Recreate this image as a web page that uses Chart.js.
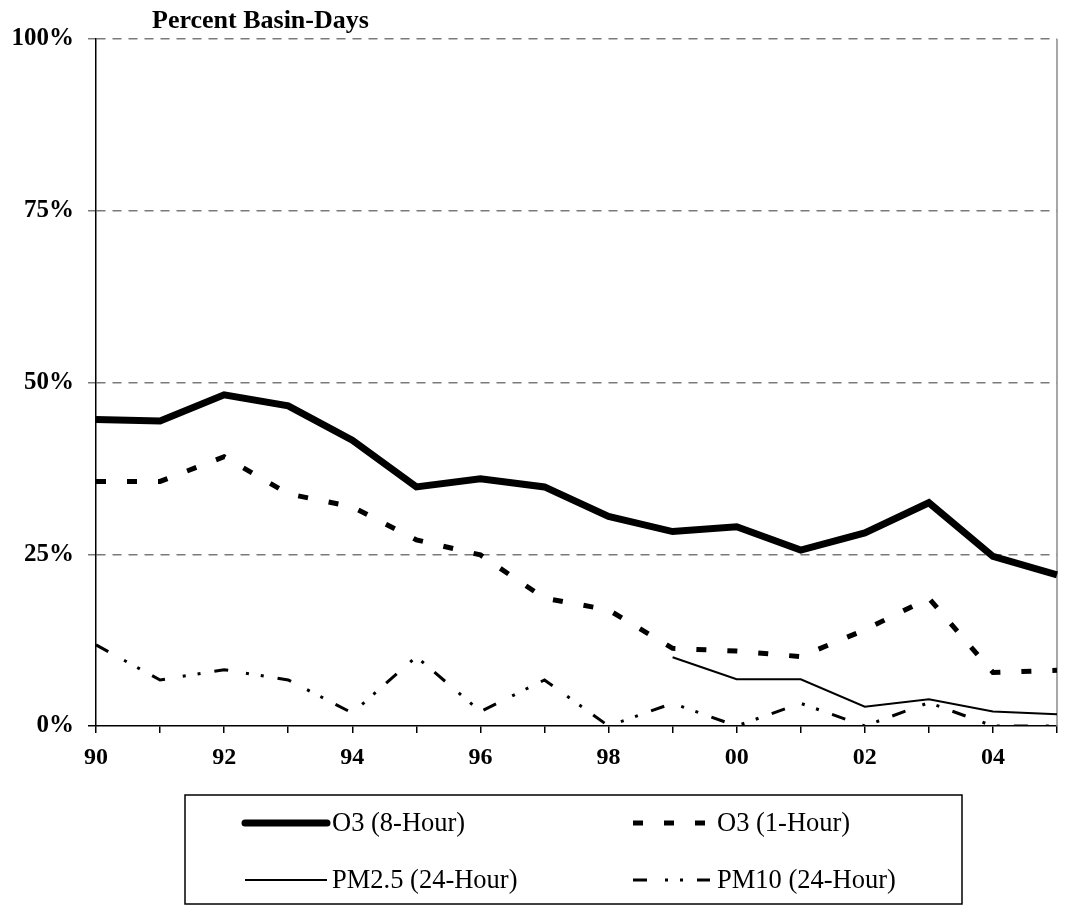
<!DOCTYPE html>
<html>
<head>
<meta charset="utf-8">
<title>Percent Basin-Days</title>
<script src="https://cdn.jsdelivr.net/npm/chart.js@4/dist/chart.umd.min.js"></script>
<style>
  html, body { margin: 0; padding: 0; background: #fff; }
  #wrap { width: 1067px; height: 907px; position: relative; }
</style>
</head>
<body>
<div id="wrap"><canvas id="basinDays"></canvas></div>
<script>
// years shown as two-digit labels
const years = ['90', '91', '92', '93', '94', '95', '96', '97', '98', '99', '00', '01', '02', '03', '04', '05'];

// percent of basin-days over the standard
const o3_8hr  = [44.6, 44.4, 48.2, 46.6, 41.6, 34.8, 36.0, 34.8, 30.5, 28.3, 29.0, 25.6, 28.1, 32.5, 24.7, 22.0];
const o3_1hr  = [35.6, 35.6, 39.2, 33.8, 31.9, 27.1, 24.9, 18.6, 16.9, 11.3, 10.9, 10.1, 14.0, 18.6, 7.8, 8.1];
const pm25_24 = [null, null, null, null, null, null, null, null, null, 10.0, 6.8, 6.8, 2.8, 3.9, 2.1, 1.7];
const pm10_24 = [11.8, 6.7, 8.2, 6.7, 1.9, 10.1, 2.1, 6.7, 0, 3.3, 0, 3.3, 0, 3.4, 0, 0];

const yTicks = [0, 25, 50, 75, 100];

const SERIF = "'Liberation Serif', 'Times New Roman', serif";

// caption above the y axis
const captionPlugin = {
  id: 'caption',
  afterDraw(chart) {
    const { ctx, chartArea } = chart;
    ctx.save();
    ctx.font = `bold 26px ${SERIF}`;
    ctx.fillStyle = '#000';
    ctx.textAlign = 'left';
    ctx.textBaseline = 'alphabetic';
    ctx.fillText('Percent Basin-Days', chartArea.left + 56, chartArea.top - 11);
    ctx.restore();
  }
};

// thin grey frame on the right of the plot area
const framePlugin = {
  id: 'frame',
  beforeDatasetsDraw(chart) {
    const { ctx, chartArea: a } = chart;
    ctx.save();
    ctx.strokeStyle = '#8a8a8a';
    ctx.lineWidth = 1.5;
    ctx.beginPath();
    ctx.moveTo(a.right, a.top);
    ctx.lineTo(a.right, a.bottom);
    ctx.stroke();
    ctx.restore();
  }
};

// boxed legend, two columns by two rows
const boxLegend = {
  id: 'boxLegend',
  afterDraw(chart) {
    const { ctx } = chart;
    const box = { x: 185, y: 795, w: 777, h: 109 };
    const cols = [{ sx: 245, ex: 327, tx: 332 }, { sx: 633, ex: 710, tx: 717 }];
    const rows = [823, 880];
    ctx.save();
    ctx.strokeStyle = '#000';
    ctx.lineWidth = 1.5;
    ctx.strokeRect(box.x, box.y, box.w, box.h);
    chart.data.datasets.forEach((ds, i) => {
      const c = cols[i % 2];
      const y = rows[Math.floor(i / 2)];
      ctx.save();
      ctx.strokeStyle = ds.borderColor;
      ctx.lineWidth = ds.borderWidth;
      ctx.lineCap = i === 0 ? 'round' : 'butt';
      ctx.setLineDash(ds.borderDash || []);
      ctx.beginPath();
      ctx.moveTo(c.sx, y);
      ctx.lineTo(c.ex, y);
      ctx.stroke();
      ctx.restore();
      ctx.font = `26.5px ${SERIF}`;
      ctx.fillStyle = '#000';
      ctx.textAlign = 'left';
      ctx.textBaseline = 'middle';
      ctx.fillText(ds.label, c.tx, y + 1);
    });
    ctx.restore();
  }
};

const ctx = document.getElementById('basinDays').getContext('2d');
new Chart(ctx, {
  type: 'line',
  data: {
    labels: years,
    datasets: [
      { label: 'O3 (8-Hour)',     data: o3_8hr,  borderColor: '#000', borderWidth: 7, borderDash: [] },
      { label: 'O3 (1-Hour)',     data: o3_1hr,  borderColor: '#000', borderWidth: 5, borderDash: [10, 21] },
      { label: 'PM2.5 (24-Hour)', data: pm25_24, borderColor: '#000', borderWidth: 2, borderDash: [] },
      { label: 'PM10 (24-Hour)',  data: pm10_24, borderColor: '#000', borderWidth: 3, borderDash: [14, 18, 3, 12, 3, 14] },
    ]
  },
  options: {
    responsive: true,
    maintainAspectRatio: false,
    animation: false,
    layout: { padding: { top: 39, right: 5, left: 0, bottom: 0 } },
    elements: {
      point: { radius: 0, hoverRadius: 0 },
      line: { tension: 0, fill: false, borderCapStyle: 'butt', borderJoinStyle: 'miter' }
    },
    plugins: {
      legend: { display: false },
      title: { display: false },
      tooltip: { enabled: false }
    },
    scales: {
      x: {
        type: 'category',
        offset: false,
        grid: { drawOnChartArea: false, color: '#000', lineWidth: 1.5, tickLength: 7 },
        border: { display: true, color: '#000', width: 1.5 },
        ticks: {
          autoSkip: false,
          maxRotation: 0,
          padding: 10,
          color: '#000',
          font: { family: SERIF, size: 24, weight: 'bold' },
          callback(v, i) { return i % 2 === 0 ? years[i] : ''; }
        },
        afterFit(scale) { scale.height = 181; }
      },
      y: {
        min: 0,
        max: 100,
        afterBuildTicks(scale) { scale.ticks = yTicks.map(v => ({ value: v })); },
        grid: {
          color: c => c.tick && c.tick.value === 0 ? 'rgba(0,0,0,0)' : '#7a7a7a',
          lineWidth: 1.5,
          tickLength: 8,
          tickColor: c => c.tick && c.tick.value === 0 ? '#000' : '#7a7a7a',
          tickBorderDash: []
        },
        border: { display: true, color: '#000', width: 1.5, dash: [9, 7] },
        ticks: {
          padding: 14,
          color: '#000',
          font: { family: SERIF, size: 25, weight: 'bold' },
          callback(v) { return v + '%'; }
        },
        afterFit(scale) { scale.width = 96; }
      }
    }
  },
  plugins: [captionPlugin, framePlugin, boxLegend]
});
</script>
</body>
</html>
